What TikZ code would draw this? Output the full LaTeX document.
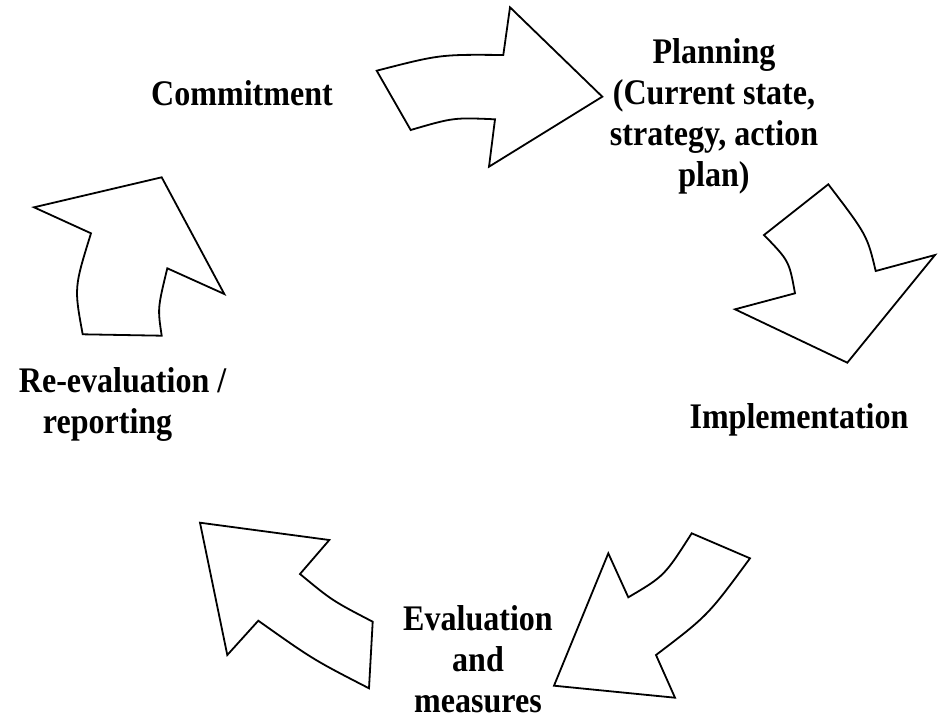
\documentclass[tikz,border=0pt]{standalone}
\usepackage{fontspec}
\setmainfont{Liberation Serif}[FakeStretch=0.89]
\usetikzlibrary{calc,positioning}

\begin{document}
\begin{tikzpicture}[x=1pt, y=-1pt, line width=1.8pt, line join=miter,
    blockarrow/.style={draw=black, fill=white},
    steplabel/.style={font=\fontsize{36}{41}\selectfont\bfseries, inner sep=0pt, align=center}]

    \useasboundingbox (0,0) rectangle (946,718);

    % arrows
    \draw[blockarrow] (376.7,70.7) .. controls (440,54.4) .. (503.3,55) -- (510,7.3) -- (602.3,96.7)
      -- (489,166.7) -- (495,119.3) .. controls (453.5,117.5) .. (410.7,130) -- cycle;
    \draw[blockarrow] (764,235) -- (828.3,184.3) .. controls (867.1,235.2) .. (875.7,271) -- (935,255)
      -- (847.3,362.7) -- (735,309.3) -- (795,293.3) .. controls (789.1,260.9) .. cycle;
    \draw[blockarrow] (691.7,533.3) -- (750,558.3) .. controls (707.9,615.5) .. (656,655) -- (675,697.7)
      -- (554,685.7) -- (608.3,553.3) -- (628.3,597.3) .. controls (664.4,576.0) .. cycle;
    \draw[blockarrow] (200,522.7) -- (329.3,540) -- (300,574) .. controls (332.3,600.7) .. (372.7,621.7)
      -- (369,688.3) .. controls (313.2,659.6) .. (258.3,620.7) -- (227.3,655) -- cycle;
    \draw[blockarrow] (161.7,177.3) -- (224.3,294) -- (167.3,268.3) .. controls (157.6,308.3) .. (161.7,335.7)
      -- (82.7,334.3) .. controls (74.1,287.7) .. (91,233.3) -- (34,207.3) -- cycle;

    % labels (base = last line)
    \node[steplabel, anchor=base] (commit) at (242,105) {Commitment};
    \node[steplabel, anchor=base] (plan) at (714,186) {Planning\\(Current state,\\strategy, action\\plan)};
    \node[steplabel, anchor=base] (impl) at (799,428) {Implementation};
    \node[steplabel, anchor=base] (eval) at (478,712) {Evaluation\\and\\measures};
    \node[steplabel, align=left, anchor=base west] (reeval) at (18,433) {Re-evaluation /\\\hspace*{24pt}reporting};

\end{tikzpicture}
\end{document}
